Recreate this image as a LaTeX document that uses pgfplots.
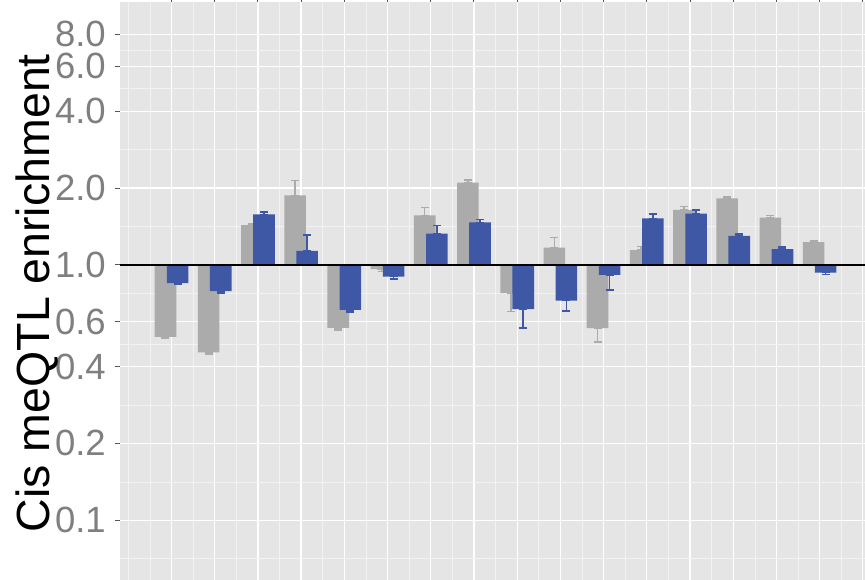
\documentclass[border=0pt]{standalone}
\usepackage{pgfplots}
\pgfplotsset{compat=1.18}
\usepackage{pgfplotstable}
\usepackage{fontspec}
\setmainfont{Liberation Sans}

\definecolor{panelbg}{HTML}{E5E5E5}
\definecolor{gridminor}{HTML}{F2F2F2}
\definecolor{bargrey}{HTML}{ABABAB}
\definecolor{barblue}{HTML}{3E58A6}
\definecolor{ticktext}{HTML}{7F7F7F}
\definecolor{tickmark}{HTML}{555555}

% x: group position, y: enrichment, ep/em: upper/lower error
\pgfplotstableread{
x  y     ep    em
0  0.522 0     0.007
1  0.454 0     0.006
2  1.433 0.022 0
3  1.873 0.271 0
4  0.567 0     0.012
5  0.962 0     0.020
6  1.564 0.111 0
7  2.098 0.051 0
8  0.775 0     0.118
9  1.169 0.114 0
10 0.566 0     0.068
11 1.142 0.037 0
12 1.641 0.055 0
13 1.823 0.026 0
14 1.531 0.033 0
15 1.227 0.018 0
}\greytab

\pgfplotstableread{
x  y     ep    em
0  0.848 0     0.010
1  0.789 0     0.012
2  1.578 0.034 0
3  1.134 0.176 0
4  0.667 0     0.013
5  0.900 0     0.021
6  1.326 0.098 0
7  1.469 0.034 0
8  0.671 0     0.105
9  0.725 0     0.064
10 0.914 0     0.116
11 1.522 0.061 0
12 1.587 0.054 0
13 1.298 0.024 0
14 1.152 0.024 0
15 0.933 0     0.017
}\bluetab

\begin{document}
\begin{tikzpicture}
\path[use as bounding box] (0,0) rectangle (865pt,580pt);
\clip (0,0) rectangle (865pt,580pt);
\begin{axis}[
  at={(120pt,0pt)}, anchor=south west,
  scale only axis, width=745pt, height=578.3pt,
  xmin=-1.192, xmax=16.05,
  ymode=log, ymin=0.05833, ymax=10.737,
  axis background/.style={fill=panelbg},
  axis line style={draw=none},
  xtick={0,...,16}, xticklabels={}, xtick pos=right,
  minor xtick={-1,-0.5,0.5,1.5,...,15.5},
  ytick={0.1,0.2,0.4,0.6,1,2,4,6,8},
  yticklabels={0.1,0.2,0.4,0.6,1.0,2.0,4.0,6.0,8.0},
  minor ytick={0.0707,0.1414,0.2828,0.4899,0.7746,1.4142,2.8284,4.899,6.9282},
  ytick pos=left,
  tick align=outside, major tick length=5pt, minor tick length=0pt,
  tick style={color=tickmark, line width=1pt},
  grid=both,
  major grid style={white, line width=1.3pt},
  minor grid style={gridminor, line width=0.6pt},
  yticklabel style={font=\fontsize{36.5}{36.5}\selectfont, color=ticktext, anchor=east, inner sep=0pt, xshift=-9pt},
  ylabel={Cis meQTL enrichment},
  every axis y label/.style={at={(axis description cs:-0.0950,0.496)}, rotate=90, anchor=base, font=\fontsize{46.5}{46.5}\selectfont, color=black},
]
% grey series, drawn left of each group centre
\addplot[ybar, bar width=0.5, bar shift=0, fill=bargrey, draw=none,
  error bars/.cd, y dir=both, y explicit,
  error bar style={draw=bargrey, line width=1.5pt},
  error mark options={rotate=90, draw=bargrey, line width=1.5pt, mark size=4pt}]
  table[x expr=\thisrow{x}-0.14, y=y, y error plus=ep, y error minus=em] {\greytab};
% blue series, drawn right of each group centre
\addplot[ybar, bar width=0.5, bar shift=0, fill=barblue, draw=none,
  error bars/.cd, y dir=both, y explicit,
  error bar style={draw=barblue, line width=1.5pt},
  error mark options={rotate=90, draw=barblue, line width=1.5pt, mark size=4pt}]
  table[x expr=\thisrow{x}+0.14, y=y, y error plus=ep, y error minus=em] {\bluetab};
% reference line at an enrichment of 1
\addplot[black, line width=1.6pt] coordinates {(-1.192,1) (16.05,1)};
\end{axis}
\end{tikzpicture}
\end{document}
